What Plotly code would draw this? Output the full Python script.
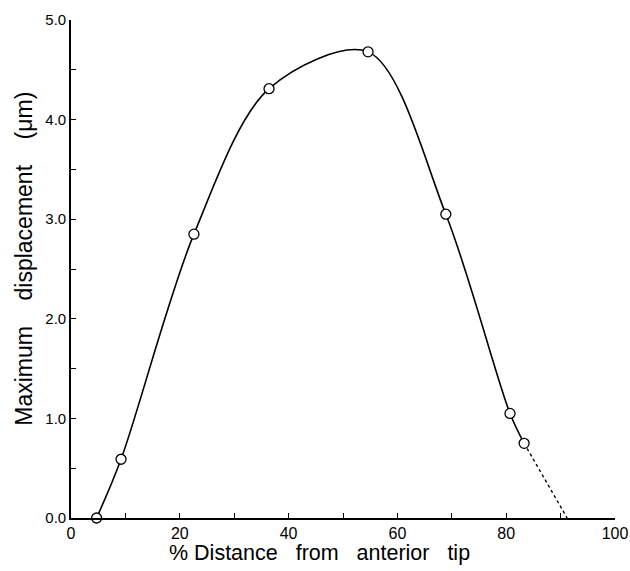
import plotly.graph_objects as go

# Data
distance_pct = [4.7, 9.2, 22.6, 36.4, 54.6, 68.9, 80.7, 83.3]
max_displacement_um = [0.0, 0.59, 2.85, 4.31, 4.68, 3.05, 1.05, 0.75]

# Dotted extrapolation to the baseline
extrap_x = [83.3, 91.2]
extrap_y = [0.75, 0.0]

x_tick_vals = [0, 20, 40, 60, 80, 100]
x_tick_text = ["0", "20", "40", "60", "80", "100"]
y_tick_vals = [0, 1, 2, 3, 4, 5]
y_tick_text = ["0.0", "1.0", "2.0", "3.0", "4.0", "5.0"]

FONT = "Liberation Sans, Arial, Helvetica, sans-serif"
NB = "\u00a0"
x_title = "%" + NB + "Distance" + NB * 3 + "from" + NB * 3 + "anterior" + NB * 3 + "tip"
y_title = "Maximum" + NB * 4 + "displacement" + NB * 4 + "(μm)"

fig = go.Figure()

fig.add_trace(go.Scatter(
    x=extrap_x, y=extrap_y, mode="lines",
    line=dict(color="black", width=1.4, dash="dot"),
    cliponaxis=False, showlegend=False, hoverinfo="skip",
))

fig.add_trace(go.Scatter(
    x=distance_pct, y=max_displacement_um, mode="lines+markers",
    line=dict(color="black", width=1.6, shape="spline", smoothing=0.9),
    marker=dict(symbol="circle", size=10, color="white",
                line=dict(color="black", width=1.3)),
    cliponaxis=False, showlegend=False,
))

fig.update_layout(
    width=630, height=571,
    margin=dict(l=71, r=15, t=20, b=53),
    paper_bgcolor="white", plot_bgcolor="white",
    font=dict(family=FONT, color="black", size=15),
    annotations=[
        dict(text=x_title, xref="paper", yref="paper", x=0.4577, y=-0.0703,
             xanchor="center", yanchor="middle", showarrow=False,
             font=dict(size=21.5, family=FONT, color="black")),
        dict(text=y_title, xref="paper", yref="paper", x=-0.087, y=0.52,
             xanchor="center", yanchor="middle", showarrow=False, textangle=-90,
             font=dict(size=23, family=FONT, color="black")),
    ],
)

fig.update_xaxes(
    range=[0, 100], showgrid=False, zeroline=False, automargin=False,
    showline=True, linecolor="black", linewidth=1.6,
    tickmode="array", tickvals=x_tick_vals, ticktext=x_tick_text,
    ticks="inside", ticklen=5, tickwidth=1.2, tickcolor="black",
    minor=dict(dtick=10, ticks="inside", ticklen=5, tickwidth=1.2, tickcolor="black", showgrid=False),
    tickfont=dict(size=16, family=FONT),
)

fig.update_yaxes(
    range=[0, 5], showgrid=False, zeroline=False, automargin=False,
    showline=True, linecolor="black", linewidth=1.6,
    tickmode="array", tickvals=y_tick_vals, ticktext=y_tick_text,
    ticks="inside", ticklen=5, tickwidth=1.2, tickcolor="black",
    minor=dict(dtick=0.5, ticks="inside", ticklen=5, tickwidth=1.2, tickcolor="black", showgrid=False),
    tickfont=dict(size=15, family=FONT),
)

# remove the default 8px page margin so the figure fills the window exactly
fig.write_html("out.html", config={"displayModeBar": False},
               post_script="document.body.style.margin='0';document.body.style.overflow='hidden';")
